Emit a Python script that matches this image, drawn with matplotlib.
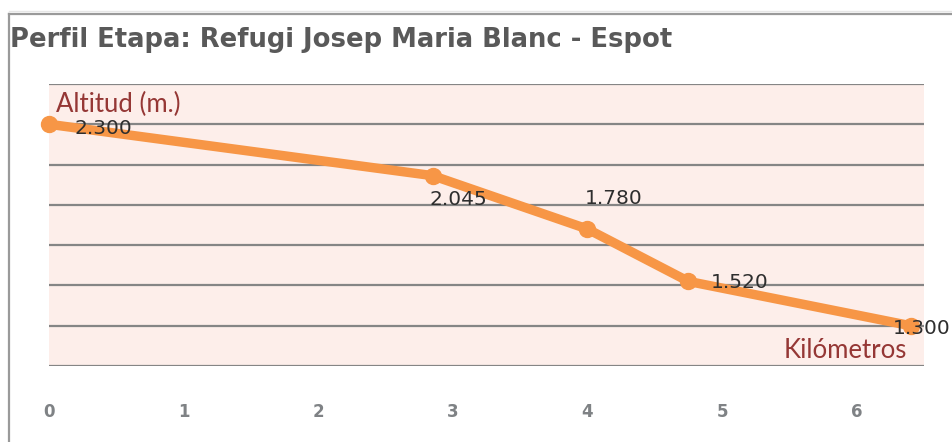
import matplotlib
matplotlib.use("Agg")
import matplotlib.pyplot as plt
from matplotlib.lines import Line2D

# Data
km = [0, 2.85, 4.0, 4.75, 6.4]
altitud = [2300, 2045, 1780, 1520, 1300]
labels = ["2.300", "2.045", "1.780", "1.520", "1.300"]
xticks = [0, 1, 2, 3, 4, 5, 6]
title = "Perfil Etapa: Refugi Josep Maria Blanc - Espot"

W, H = 952, 442
fig = plt.figure(figsize=(W / 100, H / 100), dpi=100)
fig.patch.set_facecolor("white")

# outer frame lines (top and left)
fig.add_artist(Line2D([8.5 / W, 1], [1 - 13.5 / H, 1 - 13.5 / H], color="#9a9a9a", lw=1.6))
fig.add_artist(Line2D([9 / W, 9 / W], [0, 1 - 13.5 / H], color="#9a9a9a", lw=1.6))
fig.add_artist(Line2D([8.5 / W, 1], [1 - 11 / H, 1 - 11 / H], color="#e6e6e6", lw=1.0))

fig.text(10 / W, 1 - 40 / H, title, fontsize=18.6, fontweight="bold", color="#595959",
         family="DejaVu Sans", va="center", ha="left")

ax = fig.add_axes([49 / W, 1 - 366 / H, (924 - 49) / W, (366 - 84) / H])
ax.set_facecolor("#fdeeea")
ax.set_xlim(0, 6.5)
ax.set_ylim(1100, 2500)
ax.set_yticks(range(1100, 2501, 200))
ax.yaxis.grid(True, color="#858585", lw=1.6)
ax.set_axisbelow(True)
for s in ax.spines.values():
    s.set_visible(False)
ax.tick_params(axis="y", left=False, labelleft=False)
ax.tick_params(axis="x", bottom=False, pad=23)
ax.set_xticks(xticks)
ax.set_xticklabels([str(t) for t in xticks], fontsize=12, color="#7f8285",
                   fontweight="bold", family="DejaVu Sans")

ax.plot(km, altitud, color="#f79646", lw=6.8, marker="o", markersize=11.5,
        solid_capstyle="round", solid_joinstyle="round", clip_on=False, zorder=3)

offsets = [(18, -3), (-2, -17), (-2, 22), (16, -1), (-13, -2)]
for x, y, lab, off in zip(km, altitud, labels, offsets):
    ax.annotate(lab, (x, y), xytext=off, textcoords="offset points", ha="left", va="center",
                fontsize=14.5, color="#2e2e2e", family="DejaVu Sans", zorder=4,
                annotation_clip=False)

ax.text(7 / (924 - 49), 1 - 20 / (366 - 84), "Altitud (m.)", transform=ax.transAxes,
        fontsize=18.5, color="#953735", family="Lato", ha="left", va="center")
ax.text(1 - 17 / (924 - 49), 15 / (366 - 84), "Kilómetros", transform=ax.transAxes,
        fontsize=18.5, color="#953735", family="Lato", ha="right", va="center")

fig.savefig("out.png", dpi=100, facecolor="white")
